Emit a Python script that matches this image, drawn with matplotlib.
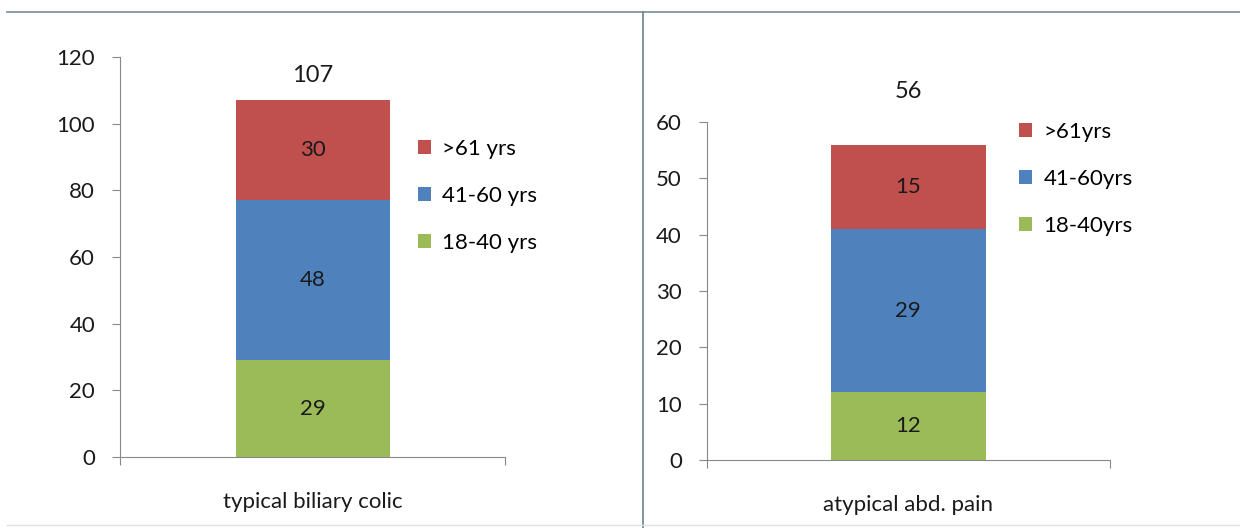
import matplotlib.pyplot as plt
from matplotlib.lines import Line2D

plt.rcParams['font.family'] = ['Lato', 'DejaVu Sans']

# data
groups = ['>61 yrs', '41-60 yrs', '18-40 yrs']
left_cat = 'typical biliary colic'
left_vals = [30, 48, 29]      # >61, 41-60, 18-40
right_cat = 'atypical abd. pain'
right_vals = [15, 29, 12]
right_groups = ['>61yrs', '41-60yrs', '18-40yrs']
colors = ['#C0504D', '#4F81BD', '#9BBB59']

FS = 16
W, H = 1240, 528

fig = plt.figure(figsize=(12.4, 5.28), dpi=100)

def stacked(ax, cat, vals, labels, ymax, step, width, total_y):
    bottom = 0
    handles = []
    # draw from bottom (last group) upward
    for v, c, lab in zip(vals[::-1], colors[::-1], labels[::-1]):
        b = ax.bar(0, v, width=width, bottom=bottom, color=c, label=lab)
        ax.text(0, bottom + v / 2, str(v), ha='center', va='center', fontsize=FS, color='#1a1a1a')
        handles.append(b)
        bottom += v
    ax.text(0, total_y, str(bottom), ha='center', va='center', fontsize=FS + 1, color='#1a1a1a')
    ax.set_xlim(-0.5, 0.5)
    ax.set_ylim(0, ymax)
    ax.set_yticks(range(0, ymax + 1, step))
    ax.set_xticks([-0.5, 0.5])
    ax.set_xticklabels(['', ''])
    ax.tick_params(axis='y', direction='out', length=6, color='#888888', labelsize=FS, labelcolor='#1a1a1a', pad=12)
    ax.tick_params(axis='x', direction='out', length=6, color='#888888')
    for s in ['top', 'right']:
        ax.spines[s].set_visible(False)
    for s in ['left', 'bottom']:
        ax.spines[s].set_color('#888888')
    ax.set_xlabel(cat, fontsize=FS, color='#1a1a1a', labelpad=16)
    ax.patch.set_alpha(0)
    return handles[::-1]

ax1 = fig.add_axes([0.0968, 0.1345, 0.3105, 0.7575])
h1 = stacked(ax1, left_cat, left_vals, groups, 120, 20, 0.4, 114.5)
fig.legend(h1, groups, loc='upper left', bbox_to_anchor=(418 / W, 1 - 139 / H), frameon=False,
           fontsize=FS, handlelength=0.6, handleheight=0.6, handletextpad=0.5, labelspacing=1.22,
           borderpad=0, borderaxespad=0)

ax2 = fig.add_axes([0.570, 0.1288, 0.325, 0.640])
h2 = stacked(ax2, right_cat, right_vals, right_groups, 60, 10, 0.385, 65.4)
fig.legend(h2, right_groups, loc='upper left', bbox_to_anchor=(1019 / W, 1 - 122 / H), frameon=False,
           fontsize=FS, handlelength=0.6, handleheight=0.6, handletextpad=0.5, labelspacing=1.22,
           borderpad=0, borderaxespad=0)

# frame lines of the screenshot
fig.add_artist(Line2D([0.006, 1.0], [1 - 12 / H, 1 - 12 / H], color='#7a8a99', lw=1.2))
fig.add_artist(Line2D([643 / W, 643 / W], [0, 1 - 12 / H], color='#6b7f93', lw=1.2))
fig.add_artist(Line2D([0.006, 1.0], [3 / H, 3 / H], color='#e0e0e0', lw=1))

fig.savefig('out.png', dpi=100)
